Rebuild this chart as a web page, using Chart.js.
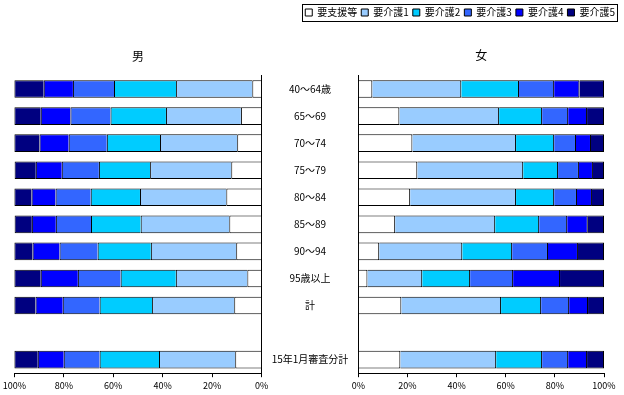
<!DOCTYPE html>
<html>
<head>
<meta charset="utf-8">
<script src="https://cdn.jsdelivr.net/npm/chart.js@4"></script>
<style>
  body { margin: 0; background: #fff; }
  #wrap { position: relative; width: 624px; height: 395px; }
  #male { position: absolute; left: 0; top: 0; }
  #female { position: absolute; left: 262px; top: 0; }
</style>
</head>
<body>
<div id="wrap">
  <canvas id="male" width="290" height="395"></canvas>
  <canvas id="female" width="362" height="395"></canvas>
</div>
<script>
const ageGroups = ['40〜64歳', '65〜69', '70〜74', '75〜79', '80〜84', '85〜89', '90〜94', '95歳以上', '計', '', '15年1月審査分計']
const levels = ['要支援等', '要介護1', '要介護2', '要介護3', '要介護4', '要介護5']
const colors = ['#FFFFFF', '#99CCFF', '#00CCFF', '#3366FF', '#0000FF', '#000080']
const percentTicks = [0, 20, 40, 60, 80, 100]

// 男 (%)
const maleSupport = [3.8, 8.4, 9.9, 12.3, 14.3, 13.1, 10.3, 5.8, 11.1, null, 10.7]
const maleCare1   = [30.8, 30.3, 31.2, 32.8, 34.9, 35.8, 34.5, 28.9, 33.2, null, 30.8]
const maleCare2   = [25.1, 22.4, 21.5, 20.7, 19.9, 20.1, 21.5, 22.3, 21.2, null, 24.0]
const maleCare3   = [16.6, 16.2, 15.4, 15.0, 14.2, 14.2, 15.4, 17.3, 14.9, null, 14.5]
const maleCare4   = [11.8, 12.0, 11.8, 10.5, 9.7, 9.7, 10.9, 15.0, 11.0, null, 10.5]
const maleCare5   = [11.9, 10.7, 10.2, 8.6, 7.0, 7.0, 7.4, 10.7, 8.6, null, 9.5]

// 女 (%)
const femaleSupport = [5.7, 16.7, 22.0, 24.0, 21.1, 15.0, 8.5, 3.7, 17.5, null, 17.1]
const femaleCare1   = [36.2, 40.6, 42.2, 43.1, 43.1, 40.7, 33.8, 22.3, 40.6, null, 39.0]
const femaleCare2   = [23.5, 17.5, 15.5, 14.2, 15.5, 17.9, 20.3, 19.5, 16.3, null, 18.7]
const femaleCare3   = [14.3, 10.6, 8.9, 8.5, 9.3, 11.4, 14.6, 17.5, 11.4, null, 10.6]
const femaleCare4   = [10.3, 7.7, 6.1, 5.7, 6.1, 8.4, 12.2, 19.1, 7.7, null, 7.7]
const femaleCare5   = [10.0, 6.9, 5.3, 4.5, 4.9, 6.6, 10.6, 17.9, 6.5, null, 6.9]

const maleSeries = [maleSupport, maleCare1, maleCare2, maleCare3, maleCare4, maleCare5]
const femaleSeries = [femaleSupport, femaleCare1, femaleCare2, femaleCare3, femaleCare4, femaleCare5]

Chart.defaults.font.family = "'Noto Sans CJK JP', 'Noto Sans', sans-serif"
Chart.defaults.color = '#000'

const makeDatasets = series => series.map((values, i) => ({
    label: levels[i],
    data: values,
    backgroundColor: colors[i],
    borderColor: '#000',
    borderWidth: 1,
    categoryPercentage: 1,
    barPercentage: 0.65
}))

const xAxis = reverse => ({
    stacked: true,
    reverse: reverse,
    min: 0,
    max: 100,
    afterBuildTicks: axis => { axis.ticks = percentTicks.map(v => ({ value: v })) },
    ticks: { callback: v => v + '%', font: { size: 9 }, padding: 3, maxRotation: 0, autoSkip: false },
    grid: { drawOnChartArea: false, color: '#000', tickLength: 4 },
    border: { color: '#000' }
})

// frame round the legend, as in the original
const legendBox = {
    id: 'legendBox',
    afterDraw(chart) {
        const hb = chart.legend && chart.legend.legendHitBoxes
        if (!hb || !hb.length) return
        const first = hb[0]
        const last = hb[hb.length - 1]
        const ctx = chart.ctx
        ctx.save()
        ctx.strokeStyle = '#000'
        ctx.lineWidth = 1
        const x0 = Math.round(first.left - 3) + 0.5
        const x1 = Math.round(last.left + last.width + 2) + 0.5
        const y0 = Math.round(first.top - 4) + 0.5
        const y1 = Math.round(first.top + first.height + 3) + 0.5
        ctx.strokeRect(x0, y0, x1 - x0, y1 - y0)
        ctx.restore()
    }
}

const maleChart = new Chart(document.getElementById('male'), {
    type: 'bar',
    data: { labels: ageGroups, datasets: makeDatasets(maleSeries) },
    options: {
        indexAxis: 'y',
        responsive: false,
        animation: false,
        layout: { padding: { left: 14.3, right: 28.3, top: 0, bottom: 1 } },
        plugins: {
            legend: { display: false },
            tooltip: { enabled: false },
            title: {
                display: true, text: '男', fullSize: false,
                font: { size: 12, weight: 'normal' },
                padding: { top: 49.5, bottom: 11.6 }
            }
        },
        scales: {
            x: xAxis(true),
            y: {
                stacked: true,
                position: 'right',
                ticks: { display: false },
                grid: { display: false, drawTicks: false },
                border: { display: true, color: '#000' }
            }
        }
    }
})

const femaleChart = new Chart(document.getElementById('female'), {
    type: 'bar',
    data: { labels: ageGroups, datasets: makeDatasets(femaleSeries) },
    options: {
        indexAxis: 'y',
        responsive: false,
        animation: false,
        layout: { padding: { left: 0, right: 5, top: 3.5, bottom: 1 } },
        plugins: {
            legend: {
                position: 'top', align: 'end', weight: 3000,
                labels: { boxWidth: 7, boxHeight: 7, padding: 4, font: { size: 10 }, color: '#000' }
            },
            tooltip: { enabled: false },
            title: {
                display: true, text: '女', fullSize: false,
                font: { size: 12, weight: 'normal' },
                padding: { top: 21, bottom: 12.6 }
            }
        },
        scales: {
            x: xAxis(false),
            y: {
                stacked: true,
                position: 'left',
                ticks: { font: { size: 10 }, crossAlign: 'center', padding: 10, autoSkip: false },
                grid: { display: false, drawTicks: false },
                border: { display: true, color: '#000' },
                afterFit: axis => { axis.width = 96.3 }
            },
            yr: {
                type: 'category',
                position: 'right',
                ticks: { display: false },
                grid: { display: false, drawTicks: false },
                border: { display: false },
                afterFit: axis => { axis.width = 15 }
            }
        }
    },
    plugins: [legendBox]
})
</script>
</body>
</html>
